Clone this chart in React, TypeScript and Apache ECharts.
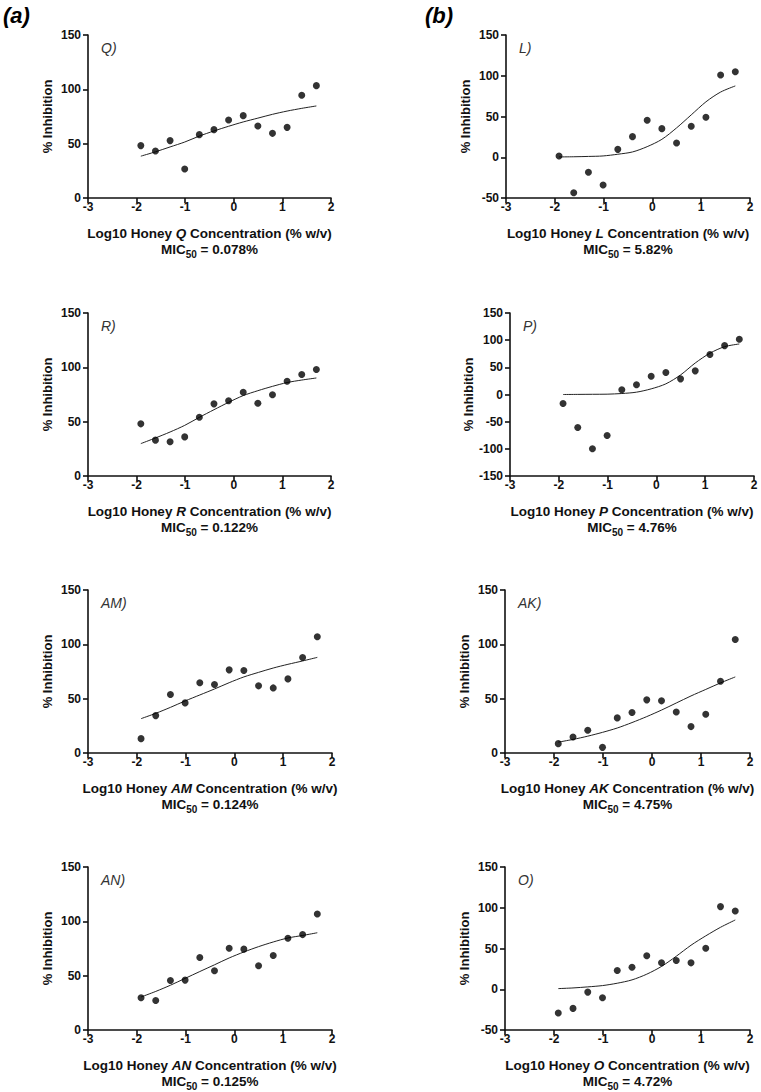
import React, { useEffect, useRef } from "react";
import * as echarts from "echarts";

// Log10 honey concentration (% w/v) of the two-fold dilution series
const logConc = [-1.913, -1.612, -1.311, -1.01, -0.709, -0.408, -0.107, 0.194, 0.495, 0.796, 1.097, 1.398, 1.699];

// % inhibition per honey (measured points)
const inhibQ = [48.2, 43.3, 52.8, 26.7, 58.3, 62.9, 71.8, 75.8, 66.3, 59.5, 65.0, 94.5, 103.4];
const inhibL = [1.6, -43.5, -18.5, -34, 9.7, 25.3, 45.3, 35.1, 17.5, 38, 49, 101, 105];
const inhibR = [48, 33, 31.5, 36, 54, 66.4, 69.2, 77.1, 67, 74.7, 87.2, 93.4, 98];
const inhibP = [-16.5, -60.6, -99.8, -75.3, 8.6, 17.8, 33.7, 40.4, 28.8, 43.5, 73.5, 90, 101.6];
const inhibAM = [13.2, 34.4, 53.8, 46.1, 64.6, 63, 76.5, 75.9, 61.8, 59.9, 68.2, 87.9, 107];
const inhibAK = [8.6, 14.8, 20.9, 5.2, 32.3, 37.2, 48.9, 48, 37.8, 24.3, 35.7, 66.1, 104.5];
const inhibAN = [29.7, 27.2, 45.6, 45.9, 66.7, 54.5, 75.3, 74.4, 59.1, 68.6, 84.5, 87.8, 106.8];
const inhibO = [-29.2, -23.5, -3.5, -10.4, 23, 27.1, 41, 32.4, 35.3, 32.4, 50.4, 101.4, 96.1];

// fitted dose-response curves, values at each logConc
const fitQ = [38.5, 42.5, 47, 51.5, 57, 61.7, 66, 70, 73.5, 77, 80, 82.5, 84.7];
const fitL = [0.4, 0.6, 1.0, 1.6, 3.7, 6.5, 13, 22, 36, 52, 68, 80, 87.5];
const fitR = [29.8, 35, 40.5, 46.6, 54, 61, 67.8, 74, 78.5, 82.5, 86, 88.3, 90.2];
const fitP = [0, 0.2, 0.4, 0.6, 1.8, 4.3, 10.4, 19.6, 36, 58, 76, 88, 93];
const fitAM = [31.6, 36.5, 42, 47.9, 53.4, 58.9, 64.7, 70, 74.2, 78.2, 81.6, 84.7, 88];
const fitAK = [10, 12.5, 15.5, 19, 23, 28, 33.5, 39.5, 46, 52.5, 58.5, 64.5, 70];
const fitAN = [30.4, 35.5, 41.2, 47.5, 53.8, 60, 66.3, 71.8, 76.7, 81, 84.7, 87, 89.5];
const fitO = [0.8, 1.6, 2.9, 4.5, 7.4, 11.5, 18.5, 28, 40.5, 54, 65.5, 76, 85];

const honeyNames = ["Q", "L", "R", "P", "AM", "AK", "AN", "O"];
const mic50Labels = ["0.078%", "5.82%", "0.122%", "4.76%", "0.124%", "4.75%", "0.125%", "4.72%"];
const yMins = [0, -50, 0, -150, 0, 0, 0, -50];
const yMax = 150;
const yInterval = 50;
const xMin = -3;
const xMax = 2;
const groupLabels = ["(a)", "(b)"];

const inhibSets = [inhibQ, inhibL, inhibR, inhibP, inhibAM, inhibAK, inhibAN, inhibO];
const fitSets = [fitQ, fitL, fitR, fitP, fitAM, fitAK, fitAN, fitO];

// layout: [left, top, width, height]
const rects = [
  [88, 35, 243, 163],
  [506, 35, 244, 163],
  [88, 313, 243, 163],
  [510, 313, 244, 163],
  [88, 590, 244, 163],
  [505, 590, 245, 163],
  [88, 867, 244, 163],
  [505, 867, 245, 163],
];

const FONT = "'Liberation Sans', Arial, Helvetica, sans-serif";
const INK = "#111";

function buildOption() {
  const grid: any[] = [];
  const xAxis: any[] = [];
  const yAxis: any[] = [];
  const series: any[] = [];
  const graphic: any[] = [];

  honeyNames.forEach((name, i) => {
    const [l, t, w, h] = rects[i];
    grid.push({ left: l, top: t, width: w, height: h, containLabel: false });
    xAxis.push({
      type: "value",
      gridIndex: i,
      min: xMin,
      max: xMax,
      interval: 1,
      axisLine: { show: true, onZero: false, lineStyle: { color: INK, width: 1.6 } },
      axisTick: { show: true, length: 5, lineStyle: { color: INK, width: 1.6 } },
      axisLabel: { color: INK, fontWeight: "bold", fontSize: 12, fontFamily: FONT, margin: 3 },
      splitLine: { show: false },
    });
    yAxis.push({
      type: "value",
      gridIndex: i,
      min: yMins[i],
      max: yMax,
      interval: yInterval,
      name: "% Inhibition",
      nameLocation: "middle",
      nameGap: 34,
      nameTextStyle: { color: INK, fontWeight: "bold", fontSize: 13, fontFamily: FONT },
      axisLine: { show: true, onZero: false, lineStyle: { color: INK, width: 1.6 } },
      axisTick: { show: true, length: 5, lineStyle: { color: INK, width: 1.6 } },
      axisLabel: { color: INK, fontWeight: "bold", fontSize: 12, fontFamily: FONT, margin: 7 },
      splitLine: { show: false },
    });
    series.push({
      type: "line",
      xAxisIndex: i,
      yAxisIndex: i,
      data: logConc.map((x, k) => [x, fitSets[i][k]]),
      smooth: 0.3,
      showSymbol: false,
      symbol: "none",
      lineStyle: { color: "#222", width: 1 },
      z: 2,
    });
    series.push({
      type: "scatter",
      xAxisIndex: i,
      yAxisIndex: i,
      data: logConc.map((x, k) => [x, inhibSets[i][k]]),
      symbol: "circle",
      symbolSize: 7,
      itemStyle: { color: "#000" },
      z: 3,
    });

    const cx = l + w / 2;
    const bottom = t + h;
    graphic.push({
      type: "text",
      x: cx,
      y: bottom + 35,
      style: {
        text: `{b|Log10 Honey }{bi|${name}}{b| Concentration (% w/v)}`,
        align: "center",
        verticalAlign: "middle",
        textAlign: "center",
        textVerticalAlign: "middle",
        rich: {
          b: { fontSize: 13.5, fontWeight: "bold", fontFamily: FONT, fill: INK, color: INK },
          bi: { fontSize: 13.5, fontWeight: "bold", fontStyle: "italic", fontFamily: FONT, fill: INK, color: INK },
        },
      },
    });
    graphic.push({
      type: "text",
      x: cx,
      y: bottom + 51,
      style: {
        text: `{b|MIC}{s|50}{b| = ${mic50Labels[i]}}`,
        align: "center",
        verticalAlign: "middle",
        textAlign: "center",
        textVerticalAlign: "middle",
        rich: {
          b: { fontSize: 13.5, fontWeight: "bold", fontFamily: FONT, fill: INK, color: INK, lineHeight: 14 },
          s: { fontSize: 10, fontWeight: "bold", fontFamily: FONT, fill: INK, color: INK, verticalAlign: "bottom", lineHeight: 20 },
        },
      },
    });
    graphic.push({
      type: "text",
      x: l + 13,
      y: t + 13,
      style: {
        text: `${name})`,
        font: `italic 14px ${FONT}`,
        fill: "#333",
        align: "left",
        verticalAlign: "middle",
        textAlign: "left",
        textVerticalAlign: "middle",
      },
    });
  });

  graphic.push({
    type: "text",
    x: 3,
    y: 15,
    style: {
      text: groupLabels[0],
      font: `italic bold 22px ${FONT}`,
      fill: "#000",
      align: "left",
      verticalAlign: "middle",
      textAlign: "left",
      textVerticalAlign: "middle",
    },
  });
  graphic.push({
    type: "text",
    x: 425,
    y: 15,
    style: {
      text: groupLabels[1],
      font: `italic bold 22px ${FONT}`,
      fill: "#000",
      align: "left",
      verticalAlign: "middle",
      textAlign: "left",
      textVerticalAlign: "middle",
    },
  });

  return {
    animation: false,
    backgroundColor: "#fff",
    grid,
    xAxis,
    yAxis,
    series,
    graphic,
  };
}

export default function App() {
  const ref = useRef<HTMLDivElement>(null);
  useEffect(() => {
    if (!ref.current) return;
    const chart = echarts.init(ref.current, undefined, { renderer: "svg" });
    chart.setOption(buildOption() as any);
    return () => chart.dispose();
  }, []);
  return (
    <div
      ref={ref}
      style={{ position: "absolute", left: 0, top: 0, width: 761, height: 1092, background: "#fff" }}
    />
  );
}
